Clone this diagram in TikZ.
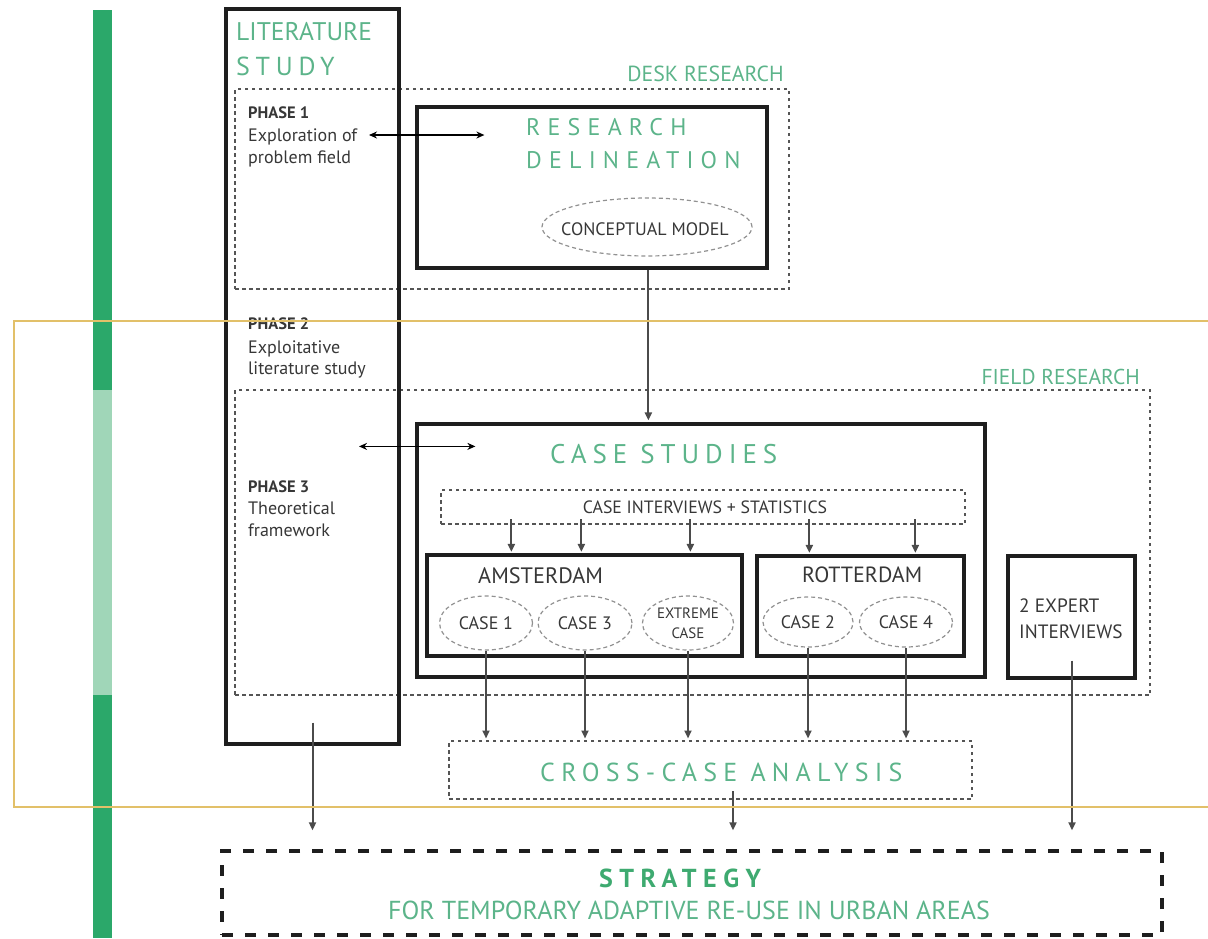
\documentclass[tikz,border=0pt]{standalone}
\usepackage{fontspec}
\setmainfont{PT Sans}
\usetikzlibrary{arrows.meta,calc,shapes.geometric}

\definecolor{bardark}{RGB}{43,168,106}
\definecolor{barlight}{RGB}{160,214,184}
\definecolor{titlegreen}{RGB}{92,180,138}
\definecolor{stratgreen}{RGB}{62,170,112}
\definecolor{ink}{RGB}{55,55,55}
\definecolor{frame}{RGB}{30,30,30}
\definecolor{dotgray}{RGB}{85,85,85}
\definecolor{ovalgray}{RGB}{145,145,145}
\definecolor{conngray}{RGB}{75,75,75}
\definecolor{gold}{RGB}{226,192,105}

\newcommand{\fsz}[2]{\fontsize{#1}{#2}\selectfont}

\begin{document}
\begin{tikzpicture}[x=1pt,y=-1pt,
  solidbox/.style={draw=frame,line width=3.2pt,inner sep=0pt},
  dotbox/.style={draw=dotgray,line width=2pt,dash pattern=on 3.5pt off 3.5pt,inner sep=0pt},
  stratbox/.style={draw=frame,line width=3.4pt,dash pattern=on 11pt off 12pt,inner sep=0pt},
  oval/.style={ellipse,draw=ovalgray,line width=1.2pt,dash pattern=on 4pt off 3pt,inner sep=0pt,text=ink,font=\fsz{18}{20}},
  conn/.style={draw=conngray,line width=2pt,-{Triangle[length=8pt,width=7pt]}},
  twoway/.style={draw=black,line width=1.5pt,{Stealth[length=8pt,width=7pt]}-{Stealth[length=8pt,width=7pt]}},
  txt/.style={inner sep=0pt,text=ink},
  ttl/.style={inner sep=0pt,text=titlegreen},
]
\useasboundingbox (0,0) rectangle (1208,938);

% timeline bar on the left
\fill[bardark] (93,10) rectangle (112,390);
\fill[barlight] (93,390) rectangle (112,695);
\fill[bardark] (93,695) rectangle (112,938);

% research areas (dotted)
\node[dotbox,minimum width=554pt,minimum height=200pt] (desk) at (512,189) {};
\node[dotbox,minimum width=915pt,minimum height=305pt] (field) at (692.5,542.5) {};
\node[ttl,anchor=base east,font=\fsz{21.8}{24}] (desklbl) at (784,81) {DESK RESEARCH};
\node[ttl,anchor=base east,font=\fsz{21.5}{24}] (fieldlbl) at (1140,384) {FIELD RESEARCH};

% literature study column
\node[solidbox,minimum width=173pt,minimum height=735pt] (lit) at (312.5,376.5) {};
\node[ttl,anchor=base west,font=\fsz{25.5}{30}] (littitle) at (236,40) {LITERATURE};
\node[ttl,anchor=base west,font={\fsz{26}{30}\addfontfeatures{LetterSpace=22}}] (litstudy) at (236,75) {STUDY};

\node[txt,anchor=base west,font=\bfseries\fsz{16.5}{20}] (p1a) at (248,118) {PHASE 1};
\node[txt,anchor=base west,font=\fsz{18}{20}] (p1b) at (248,141) {Exploration of};
\node[txt,anchor=base west,font=\fsz{18}{20}] (p1c) at (248,163) {problem field};

\node[txt,anchor=base west,font=\bfseries\fsz{16.5}{20}] (p2a) at (248,329) {PHASE 2};
\node[txt,anchor=base west,font=\fsz{18}{20}] (p2b) at (248,353) {Exploitative};
\node[txt,anchor=base west,font=\fsz{18}{20}] (p2c) at (248,374) {literature study};

\node[txt,anchor=base west,font=\bfseries\fsz{16.5}{20}] (p3a) at (248,492) {PHASE 3};
\node[txt,anchor=base west,font=\fsz{18}{20}] (p3b) at (248,514) {Theoretical};
\node[txt,anchor=base west,font=\fsz{18}{20}] (p3c) at (248,536) {framework};

% research delineation
\node[solidbox,minimum width=350pt,minimum height=161pt] (rd) at (592,187.5) {};
\node[ttl,anchor=base west,font={\fsz{24}{28}\addfontfeatures{LetterSpace=30}}] (rd1) at (526,135) {RESEARCH};
\node[ttl,anchor=base west,font={\fsz{24}{28}\addfontfeatures{LetterSpace=30}}] (rd2) at (526,168) {DELINEATION};
\node[oval,minimum width=210pt,minimum height=58pt] (cm) at (647,227) {};
\node[txt,font=\fsz{18}{20}] (cmlbl) at (645,229) {CONCEPTUAL MODEL};

% case studies
\node[solidbox,minimum width=568pt,minimum height=253pt] (cs) at (701,550.5) {};
\node[ttl,anchor=base west,font={\fsz{27}{30}\addfontfeatures{LetterSpace=22}}] (cslbl) at (550,463) {CASE STUDIES};
\node[dotbox,minimum width=524pt,minimum height=34pt] (ci) at (703,507) {};
\node[txt,anchor=base,font=\fsz{17.8}{20}] (cilbl) at (705,513) {CASE INTERVIEWS + STATISTICS};

\node[solidbox,minimum width=315pt,minimum height=101pt] (ams) at (584.5,605.5) {};
\node[txt,anchor=base west,font=\fsz{22.3}{24}] (amslbl) at (478,583) {AMSTERDAM};
\node[oval,minimum width=93pt,minimum height=54pt] (c1) at (486,623) {CASE 1};
\node[oval,minimum width=94pt,minimum height=54pt] (c3) at (585,623) {CASE 3};
\node[oval,minimum width=91pt,minimum height=54pt,align=center,font=\fsz{15}{20}] (cx) at (688,623) {EXTREME\\CASE};

\node[solidbox,minimum width=207pt,minimum height=100pt] (rot) at (860.5,606) {};
\node[txt,anchor=base west,font=\fsz{22}{24}] (rotlbl) at (802,582) {ROTTERDAM};
\node[oval,minimum width=90pt,minimum height=50pt] (c2) at (808,622) {CASE 2};
\node[oval,minimum width=93pt,minimum height=50pt] (c4) at (906,622) {CASE 4};

\node[solidbox,minimum width=127pt,minimum height=122pt] (exp) at (1071.5,617) {};
\node[txt,anchor=base west,font=\fsz{19.3}{24}] (exp1) at (1019,612) {2 EXPERT};
\node[txt,anchor=base west,font=\fsz{19.3}{24}] (exp2) at (1019,638) {INTERVIEWS};

% cross-case analysis and strategy
\node[dotbox,minimum width=523pt,minimum height=58pt] (cross) at (710.5,770) {};
\node[ttl,anchor=base west,font={\fsz{26}{30}\addfontfeatures{LetterSpace=24}}] (crosslbl) at (540,781) {CROSS-CASE ANALYSIS};

\node[stratbox,minimum width=940pt,minimum height=84pt] (strat) at (692,893) {};
\node[inner sep=0pt,text=stratgreen,anchor=base,font={\bfseries\fsz{26}{30}\addfontfeatures{LetterSpace=25}}] (strat1) at (680,887) {STRATEGY};
\node[ttl,anchor=base,font=\fsz{26}{30}] (strat2) at (689,919) {FOR TEMPORARY ADAPTIVE RE-USE IN URBAN AREAS};

% two-way links between literature and research steps
\coordinate (p1l) at ($(p1b.base west)+(121,-6)$);
\coordinate (p1r) at ($(rd.north west)+(69,28)$);
\draw[twoway] (p1l) -- (p1r |- p1l);
\coordinate (p3l) at ($(lit.north)+(46.5,439)$);
\coordinate (p3r) at ($(cs.north west)+(60,24)$);
\draw[twoway] (p3l) -- (p3r |- p3l);

% flow connectors
\coordinate (rdout) at ($(rd.south west)+(233,0)$);
\draw[conn,shorten >=2pt] (rdout) -- (rdout |- cs.north);

\foreach \dx/\nm in {86/a1,156/a2,265/a3} {
  \coordinate (\nm) at ($(ams.north west)+(\dx,0)$);
  \draw[conn,shorten >=1.5pt] ($(\nm |- ci.south)+(0,-6)$) -- (\nm);
}
\foreach \dx/\nm in {54/r1,160/r2} {
  \coordinate (\nm) at ($(rot.north west)+(\dx,0)$);
  \draw[conn,shorten >=1.5pt] ($(\nm |- ci.south)+(0,-6)$) -- (\nm);
}

\foreach \c in {c1,c3,cx,c2,c4} {
  \draw[conn,shorten >=1.5pt] (\c.south) -- (\c.south |- cross.north);
}

\coordinate (litout) at ($(lit.south)+(0,-23)$);
\coordinate (crossout) at ($(cross.south)+(22.5,-9)$);
\coordinate (expout) at ($(exp.south)+(0.5,-19)$);
\draw[conn,shorten >=19pt] (litout) -- (litout |- strat.north);
\draw[conn,shorten >=19pt] (crossout) -- (crossout |- strat.north);
\draw[conn,shorten >=19pt] (expout) -- (expout |- strat.north);

% highlight frame
\draw[gold,line width=1.6pt] (1208,321) -- (14,321) -- (14,807) -- (1208,807);
\end{tikzpicture}
\end{document}
